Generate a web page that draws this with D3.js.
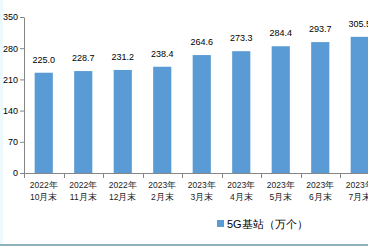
<!DOCTYPE html>
<html><head><meta charset="utf-8">
<script src="https://cdn.jsdelivr.net/npm/d3@7"></script>
<style>html,body{margin:0;padding:0;background:#fff;overflow:hidden}</style>
</head><body>
<svg id="c" width="368" height="246"></svg>
<script>
const years = ["2022年","2022年","2022年","2023年","2023年","2023年","2023年","2023年","2023年"];
const months = ["10月末","11月末","12月末","2月末","3月末","4月末","5月末","6月末","7月末"];
const values = [225.0, 228.7, 231.2, 238.4, 264.6, 273.3, 284.4, 293.7, 305.5];
const yTicks = [0, 70, 140, 210, 280, 350];
const seriesName = "5G基站（万个）";

const svg = d3.select("#c");
const font = "'Liberation Sans', Arial, sans-serif";
svg.append("rect").attr("x",0).attr("y",0).attr("width",3).attr("height",246).attr("fill","#eef9fd");
svg.append("rect").attr("x",0).attr("y",244).attr("width",368).attr("height",2).attr("fill","#8fb1ba");

const x0 = 24, bw = 39.5;
const x = d3.scaleBand().domain(d3.range(values.length)).range([x0, x0 + bw*values.length]).paddingInner(0.54).paddingOuter(0.27);
const y = d3.scaleLinear().domain([0,350]).range([173,17]);

// bars
svg.selectAll("rect.bar").data(values).enter().append("rect")
  .attr("class","bar")
  .attr("x",(d,i)=>x(i)).attr("width",x.bandwidth())
  .attr("y",d=>y(d)).attr("height",d=>y(0)-y(d))
  .attr("fill","#5b9bd5");

// labels
svg.selectAll("text.val").data(values).enter().append("text")
  .attr("x",(d,i)=>x(i)+x.bandwidth()/2).attr("y",d=>y(d)-10)
  .attr("text-anchor","middle").attr("font-family",font).attr("font-size",9).attr("fill","#000")
  .text(d=>d.toFixed(1));

// y axis
const yAxis = d3.axisLeft(y).tickValues(yTicks).tickSize(4).tickSizeOuter(0);
const ga = svg.append("g").attr("transform",`translate(${x0},0)`).call(yAxis);
ga.select(".domain").attr("stroke","#868686");
ga.selectAll(".tick line").attr("stroke","#868686");
ga.selectAll(".tick text").attr("font-family",font).attr("font-size",9).attr("fill","#000").attr("x",-6);

// x axis
const xb = d3.scaleLinear().domain([0,values.length]).range([x0, x0+bw*values.length]);
const gx = svg.append("g");
gx.append("line").attr("x1",x0).attr("x2",368).attr("y1",173.5).attr("y2",173.5).attr("stroke","#868686");
gx.selectAll("line.t").data(d3.range(values.length+1)).enter().append("line")
  .attr("x1",d=>Math.round(xb(d))+0.5).attr("x2",d=>Math.round(xb(d))+0.5)
  .attr("y1",173).attr("y2",178).attr("stroke","#868686");
const lab = gx.selectAll("text.cat").data(d3.range(values.length)).enter().append("text")
  .attr("text-anchor","middle").attr("font-family",font).attr("font-size",8.5).attr("fill","#222");
lab.append("tspan").attr("x",i=>x(i)+x.bandwidth()/2).attr("y",188).text(i=>years[i]);
lab.append("tspan").attr("x",i=>x(i)+x.bandwidth()/2).attr("y",200).text(i=>months[i]);

// legend
svg.append("rect").attr("x",217).attr("y",220).attr("width",7).attr("height",7).attr("fill","#5b9bd5");
svg.append("text").attr("x",227).attr("y",227.5).attr("font-family",font).attr("font-size",11).attr("fill","#000").text(seriesName);
</script>
</body></html>
